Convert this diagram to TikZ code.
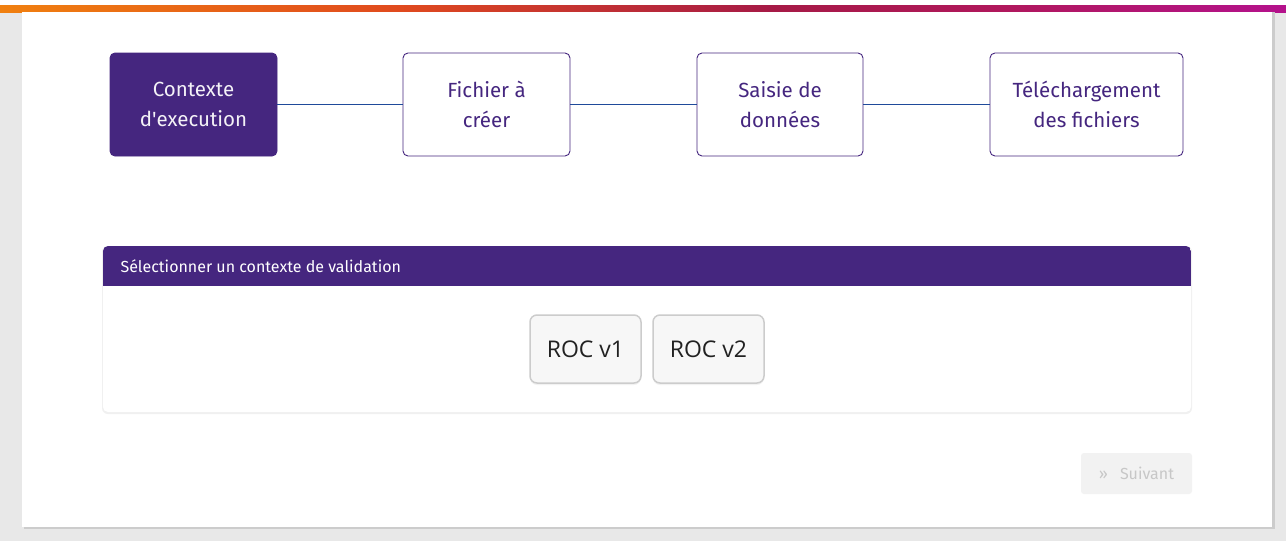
\documentclass[tikz,border=0pt]{standalone}
\usepackage{fontspec}
\setmainfont{Fira Sans}
\newfontfamily\rocfont{Open Sans}
\usepackage{tikz}
\usetikzlibrary{shadows}

\definecolor{pourpre}{HTML}{45267F}
\definecolor{lienbleu}{HTML}{1F4A9A}
\definecolor{fond}{HTML}{E8E8E8}
\definecolor{barreorange}{HTML}{F08010}
\definecolor{barrerouge}{HTML}{E04A1E}
\definecolor{barrecramoisi}{HTML}{A61A46}
\definecolor{barrerose}{HTML}{B0185C}
\definecolor{barremagenta}{HTML}{B4128C}
\pgfdeclarehorizontalshading{barre}{100bp}{color(0bp)=(barreorange); color(25bp)=(barreorange);
    color(40.55bp)=(barrerouge); color(54.95bp)=(barrecramoisi); color(63.9bp)=(barrerose);
    color(75bp)=(barremagenta); color(100bp)=(barremagenta)}

\begin{document}
\begin{tikzpicture}[x=1pt, y=-1pt,
    etape/.style={draw=pourpre, line width=0.9pt, rounded corners=5pt,
        minimum height=103pt, align=center, text=pourpre,
        font=\fontsize{20.5}{30}\selectfont},
    etapeactive/.style={etape, fill=pourpre, text=white!94!pourpre},
    lien/.style={draw=lienbleu, line width=0.8pt},
    ombre/.style={drop shadow={shadow xshift=0pt, shadow yshift=-2pt, opacity=0.10}},
    choix/.style={draw=black!20, fill=black!3, line width=1.5pt,
        rounded corners=7pt, minimum width=111pt, minimum height=68pt,
        text=black!87, font=\rocfont\fontsize{23}{26}\selectfont, ombre},
    suivant/.style={fill=black!5, rounded corners=3pt, minimum width=111pt,
        minimum height=41pt, text=black!22, font=\fontsize{16}{19}\selectfont}]
            \useasboundingbox (0,0) rectangle (1286,541);
            %
            \fill[fond] (0,0) rectangle (1286,541);
            \fill[white] (0,0) rectangle (1286,5);
            \shade[shading=barre] (0,5) rectangle (1286,12);
            \fill[black!20] (24,12) rectangle (1275,529);
            \fill[white] (22,12) rectangle (1272,527);
            %
            \node[etapeactive, minimum width=167pt] (ctx) at (193.5,104.5) {Contexte\\d\textquotesingle execution};
            \node[etape, minimum width=167pt] (fichier) at (486.5,104.5) {Fichier à\\créer};
            \node[etape, minimum width=166pt] (saisie) at (780,104.5) {Saisie de\\données};
            \node[etape, minimum width=193pt] (telech) at (1086.5,104.5) {Téléchargement\\des fichiers};
            %
            \draw[lien] (ctx) -- (fichier);
            \draw[lien] (fichier) -- (saisie);
            \draw[lien] (saisie) -- (telech);
            %
            \fill[black!6, rounded corners=6pt] (102,246) rectangle (1192,414);
            \fill[white, rounded corners=5pt] (103,246) rectangle (1191,412);
            \begin{scope}
                \clip[rounded corners=5pt] (103,246) rectangle (1191,412);
                \fill[pourpre] (103,246) rectangle (1191,286);
            \end{scope}
            \node[anchor=west, text=white, font=\fontsize{16}{19}\selectfont]
                (titre) at (117,266) {Sélectionner un contexte de validation};
            %
            \node[choix] (rocun) at (585.5,349) {ROC v1};
            \node[choix] (rocdeux) at (708.5,349) {ROC v2};
            %
            \node[suivant] (suiv) at (1136.5,473.5) {»\hspace{12pt}Suivant};
        \end{tikzpicture}
\end{document}
